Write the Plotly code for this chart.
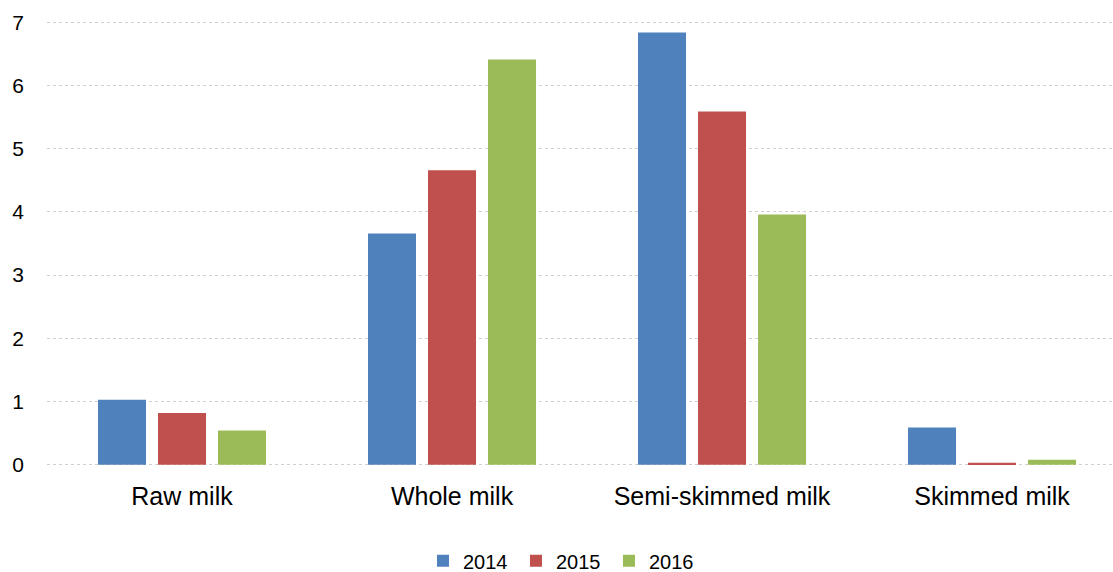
import plotly.graph_objects as go

categories = ["Raw milk", "Whole milk", "Semi-skimmed milk", "Skimmed milk"]
years = ["2014", "2015", "2016"]
values_2014 = [1.03, 3.66, 6.84, 0.59]
values_2015 = [0.82, 4.66, 5.59, 0.03]
values_2016 = [0.54, 6.41, 3.96, 0.08]
colors = ["#4F81BD", "#C0504D", "#9BBB59"]

fig = go.Figure()
for name, vals, col in zip(years, [values_2014, values_2015, values_2016], colors):
    fig.add_trace(go.Bar(x=categories, y=vals, name=name, marker_color=col,
                         marker_line_width=0))

fig.update_layout(
    width=1113, height=572,
    margin=dict(l=47, r=0, t=21, b=106, autoexpand=False),
    paper_bgcolor="white", plot_bgcolor="white",
    barmode="group", bargap=0.3333, bargroupgap=0.2,
    font=dict(family="Liberation Sans, Arial, sans-serif", color="#000000"),
    showlegend=True,
    legend=dict(orientation="h", x=0.3527, xanchor="left", y=-0.2128, yanchor="middle",
                font=dict(size=20), itemwidth=30, entrywidth=48, traceorder="normal"),
)
fig.update_xaxes(type="category", range=[-0.5, 3.448], showgrid=False, showline=False,
                 ticks="", tickfont=dict(size=25), ticklabelstandoff=13)
fig.update_yaxes(range=[-0.02, 7.02], dtick=1, tick0=0, showgrid=True, gridcolor="#d0d0d0",
                 griddash="dot", gridwidth=1, zeroline=False, showline=False,
                 tickfont=dict(size=21), ticklabelstandoff=22)

fig.write_html("out.html")
